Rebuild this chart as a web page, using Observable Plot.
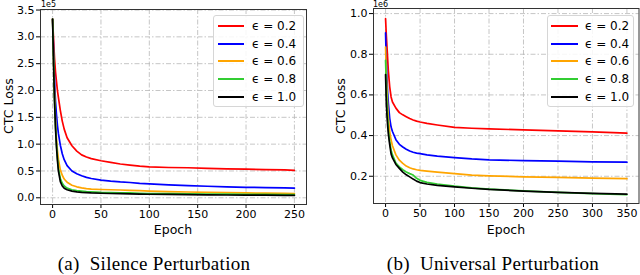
<!DOCTYPE html>
<html>
<head>
<meta charset="utf-8">
<script src="https://cdn.jsdelivr.net/npm/d3@7"></script>
<script src="https://cdn.jsdelivr.net/npm/@observablehq/plot@0.6"></script>
<style>
  html, body { margin: 0; padding: 0; background: #fff; }
  #root { position: relative; width: 640px; height: 275px; overflow: hidden; background: #fff; font-family: "DejaVu Sans", sans-serif; }
  #root svg text { font-size: 11px !important; font-family: "DejaVu Sans", sans-serif; }
  .abs { position: absolute; white-space: nowrap; }
  .lab { font-size: 12.5px; color: #000; }
  .exp { font-size: 8px; color: #000; }
  .cap { font-family: "Liberation Serif", "Times New Roman", serif; font-size: 19px; letter-spacing: 0.3px; color: #000; }
  .legend { position: absolute; border: 1px solid #d6d6d6; border-radius: 3px; background: rgba(255,255,255,0.85); box-sizing: border-box; }
  .legrow { position: absolute; left: 0; height: 0; white-space: nowrap; }
  .legrow svg { position: absolute; top: -2px; overflow: visible; }
  .legrow span { position: absolute; top: -8px; font-size: 12px; line-height: 16px; white-space: nowrap; }
</style>
</head>
<body>
<div id="root">
  <div id="pa" class="abs" style="left:0;top:0"></div>
  <div id="pb" class="abs" style="left:320px;top:0"></div>
</div>
<script>
// ---- data ----
const seriesLabels = ["ϵ = 0.2", "ϵ = 0.4", "ϵ = 0.6", "ϵ = 0.8", "ϵ = 1.0"];
const seriesColors = ["#ff0000", "#0000ff", "#ffa500", "#32cd32", "#000000"];

// (a) Silence Perturbation, CTC loss in units of 1e5
const epochsA = [0,1,2,3,4,5,6,8,10,12,15,20,25,30,35,40,50,60,70,80,90,100,120,140,160,180,200,220,240,250];
const lossA_02 = [3.33,2.95,2.6,2.35,2.17,2.0,1.87,1.63,1.43,1.28,1.12,0.97,0.87,0.8,0.76,0.73,0.69,0.66,0.63,0.61,0.59,0.575,0.565,0.56,0.55,0.54,0.535,0.525,0.52,0.51];
const lossA_04 = [3.33,2.75,2.2,1.8,1.55,1.35,1.2,0.98,0.82,0.71,0.6,0.5,0.45,0.41,0.38,0.36,0.33,0.31,0.295,0.285,0.27,0.26,0.24,0.225,0.215,0.205,0.195,0.19,0.185,0.18];
const lossA_06 = [3.33,2.6,1.95,1.45,1.1,0.88,0.72,0.52,0.42,0.35,0.29,0.235,0.205,0.185,0.172,0.163,0.155,0.15,0.145,0.14,0.133,0.125,0.115,0.108,0.1,0.095,0.09,0.087,0.084,0.08];
const lossA_08 = [3.33,2.55,1.85,1.35,1.0,0.75,0.55,0.36,0.27,0.22,0.18,0.15,0.135,0.125,0.115,0.11,0.1,0.095,0.092,0.09,0.085,0.08,0.077,0.073,0.07,0.068,0.065,0.063,0.061,0.06];
const lossA_10 = [3.33,2.5,1.8,1.3,0.95,0.7,0.5,0.3,0.22,0.18,0.15,0.125,0.11,0.1,0.095,0.09,0.085,0.08,0.077,0.074,0.07,0.066,0.062,0.058,0.055,0.052,0.05,0.048,0.046,0.045];
const xTicksA = [0,50,100,150,200,250];
const yTicksA = [0,0.5,1.0,1.5,2.0,2.5,3.0,3.5];

// (b) Universal Perturbation, CTC loss in units of 1e6
const epochsB = [0,1,2,3,4,6,8,10,15,20,25,30,35,40,45,50,60,75,100,125,150,200,250,300,350];
const lossB_02 = [0.975,0.9,0.84,0.78,0.72,0.64,0.59,0.565,0.535,0.513,0.502,0.493,0.484,0.477,0.471,0.467,0.46,0.452,0.44,0.436,0.433,0.428,0.423,0.418,0.412];
const lossB_04 = [0.905,0.77,0.68,0.61,0.56,0.485,0.442,0.42,0.38,0.357,0.344,0.333,0.324,0.318,0.314,0.311,0.305,0.299,0.292,0.285,0.281,0.277,0.274,0.271,0.269];
const lossB_06 = [0.835,0.72,0.62,0.55,0.49,0.42,0.378,0.35,0.305,0.279,0.263,0.25,0.242,0.236,0.232,0.229,0.225,0.22,0.213,0.206,0.202,0.197,0.194,0.191,0.188];
const lossB_08 = [0.77,0.66,0.56,0.49,0.43,0.37,0.328,0.305,0.265,0.246,0.232,0.221,0.213,0.206,0.19,0.18,0.17,0.162,0.151,0.143,0.137,0.128,0.121,0.115,0.109];
const lossB_10 = [0.70,0.57,0.5,0.45,0.41,0.355,0.31,0.29,0.258,0.239,0.22,0.207,0.197,0.186,0.176,0.169,0.162,0.155,0.148,0.141,0.135,0.127,0.121,0.116,0.112];
const xTicksB = [0,50,100,150,200,250,300,350];
const yTicksB = [0.2,0.4,0.6,0.8,1.0];

const texts = {
  ylabel: "CTC Loss", xlabel: "Epoch",
  expA: "1e5", expB: "1e6",
  capA: "(a)\u00a0\u00a0Silence Perturbation",
  capB: "(b)\u00a0\u00a0Universal Perturbation"
};

// ---- build ----
function rows(epochs, lists) {
  const out = [];
  lists.forEach((vals, i) => vals.forEach((v, j) => out.push({epoch: epochs[j], loss: v, series: seriesLabels[i]})));
  return out;
}

function panel(data, opts) {
  return Plot.plot({
    width: 320, height: 240,
    marginTop: opts.mt, marginBottom: opts.mb, marginLeft: opts.ml, marginRight: opts.mr,
    style: {fontFamily: "DejaVu Sans, sans-serif", fontSize: "11px", background: "transparent", color: "#000", overflow: "visible"},
    x: {domain: opts.xd, ticks: opts.xt, tickSize: 4, tickPadding: 2, label: null, tickFormat: d3.format("d")},
    y: {domain: opts.yd, ticks: opts.yt, tickSize: 4, tickPadding: 2, label: null, tickFormat: d3.format(".1f")},
    color: {domain: seriesLabels, range: seriesColors},
    marks: [
      Plot.ruleX(opts.xt, {stroke: "#b8b8b8", strokeWidth: 0.8, strokeDasharray: "5,2,1.5,2"}),
      Plot.ruleY(opts.yt, {stroke: "#b8b8b8", strokeWidth: 0.8, strokeDasharray: "5,2,1.5,2"}),
      Plot.line(data, {x: "epoch", y: "loss", z: "series", stroke: "series", strokeWidth: 1.7, strokeLinejoin: "round"}),
      Plot.frame({stroke: "#333", strokeWidth: 1})
    ]
  });
}

const dataA = rows(epochsA, [lossA_02, lossA_04, lossA_06, lossA_08, lossA_10]);
const dataB = rows(epochsB, [lossB_02, lossB_04, lossB_06, lossB_08, lossB_10]);

document.getElementById("pa").appendChild(panel(dataA, {mt: 9, mb: 36, ml: 40, mr: 14, xd: [-12.5, 262.5], yd: [-0.125, 3.51], xt: xTicksA, yt: yTicksA}));
document.getElementById("pb").appendChild(panel(dataB, {mt: 8, mb: 37, ml: 53, mr: 1.5, xd: [-17.5, 367.5], yd: [0.066, 1.025], xt: xTicksB, yt: yTicksB}));

const root = document.getElementById("root");
function addText(cls, txt, x, y, anchor, rotate) {
  const d = document.createElement("div");
  d.className = "abs " + cls;
  d.textContent = txt;
  d.style.left = x + "px"; d.style.top = y + "px";
  d.style.transform = (anchor || "translate(-50%,-50%)") + (rotate ? " rotate(-90deg)" : "");
  root.appendChild(d);
}
addText("lab", texts.ylabel, 8, 106, null, true);
addText("lab", texts.ylabel, 340, 106, null, true);
addText("lab", texts.xlabel, 173, 229);
addText("lab", texts.xlabel, 506, 229);
addText("exp", texts.expA, 41, 4, "translate(0,-50%)");
addText("exp", texts.expB, 373, 4, "translate(0,-50%)");
addText("cap", texts.capA, 154, 264);
addText("cap", texts.capB, 493, 264);

function legend(x, y, w, h, lineX0, lineX1, textX) {
  const box = document.createElement("div");
  box.className = "legend";
  box.style.left = x + "px"; box.style.top = y + "px";
  box.style.width = w + "px"; box.style.height = h + "px";
  seriesLabels.forEach((lab, i) => {
    const r = document.createElement("div");
    r.className = "legrow";
    r.style.top = (10 + i * 17.7) + "px";
    r.innerHTML = `<svg width="${lineX1}" height="4" style="left:0"><line x1="${lineX0}" x2="${lineX1}" y1="2" y2="2" stroke="${seriesColors[i]}" stroke-width="2"/></svg><span style="left:${textX}px">${lab}</span>`;
    box.appendChild(r);
  });
  root.appendChild(box);
}
legend(213, 15, 91, 92, 4, 30, 38);
legend(547, 15, 87, 92, 3, 30, 37);
</script>
</body>
</html>
